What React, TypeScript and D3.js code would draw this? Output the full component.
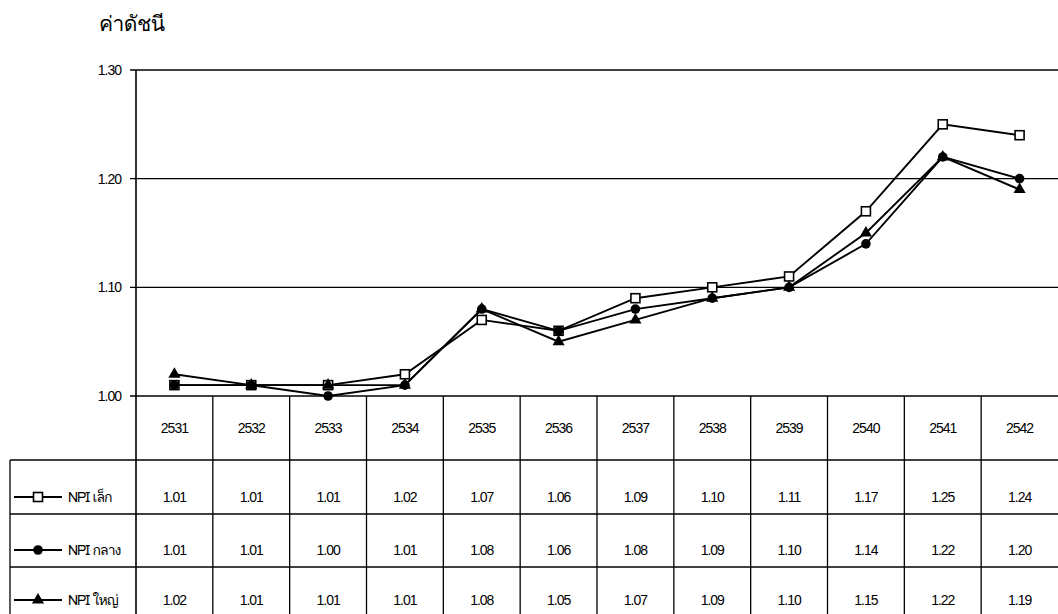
import React from "react";
import * as d3 from "d3";

const years = ["2531","2532","2533","2534","2535","2536","2537","2538","2539","2540","2541","2542"];
const npiSmall = [1.01,1.01,1.01,1.02,1.07,1.06,1.09,1.10,1.11,1.17,1.25,1.24];
const npiMedium = [1.01,1.01,1.00,1.01,1.08,1.06,1.08,1.09,1.10,1.14,1.22,1.20];
const npiLarge = [1.02,1.01,1.01,1.01,1.08,1.05,1.07,1.09,1.10,1.15,1.22,1.19];
const seriesNames = ["NPI เล็ก", "NPI กลาง", "NPI ใหญ่"];
const yTicks = [1.0, 1.1, 1.2, 1.3];
const yTitle = "ค่าดัชนี";

const W = 1058, H = 614;
const left = 136, right = 1058, top = 70, bottom = 396;
const tableLeft = 10;
const rowLines = [460, 514, 567];
const rowBaselines = [502, 555, 605];

const font = "'Liberation Sans', Arial, sans-serif";
const thaiFont = "'Loma', 'Garuda', 'Norasi', 'Noto Sans Thai', 'DejaVu Sans', 'Liberation Sans', sans-serif";

export default function App() {
  const x = d3.scaleBand<string>().domain(years).range([left, right]).padding(0);
  const y = d3.scaleLinear().domain([1.0, 1.3]).range([bottom, top]);
  const cx = (yr: string) => (x(yr) as number) + x.bandwidth() / 2;
  const line = d3.line<number>().x((_, i) => cx(years[i])).y((v) => y(v));
  const series = [npiSmall, npiMedium, npiLarge];

  const marker = (k: number, px: number, py: number, key: string) => {
    if (k === 0) return <rect key={key} x={px - 4.5} y={py - 4.5} width={9} height={9} fill="#fff" stroke="#000" strokeWidth={1.6} />;
    if (k === 1) return <circle key={key} cx={px} cy={py} r={4.8} fill="#000" />;
    const tri = d3.symbol().type(d3.symbolTriangle).size(64)();
    return <path key={key} d={tri as string} transform={`translate(${px},${py})`} fill="#000" />;
  };

  return (
    <svg width={W} height={H} style={{ position: "absolute", left: 0, top: 0, background: "#fff" }} fontFamily={font}>
      <rect width={W} height={H} fill="#fff" />
      <text x={99} y={31} fontSize={21} fontFamily={thaiFont} letterSpacing={-0.5}>{yTitle}</text>
      {yTicks.map((t) => (
        <g key={t}>
          <line x1={130} x2={right} y1={y(t)} y2={y(t)} stroke="#000" strokeWidth={1.3} />
          <text x={121} y={y(t) + 5} fontSize={14} textAnchor="end" letterSpacing={-1}>{t.toFixed(2)}</text>
        </g>
      ))}
      <line x1={left} x2={left} y1={top} y2={H} stroke="#000" strokeWidth={1.6} />
      {years.map((yr, i) => i > 0 && (
        <line key={yr} x1={x(yr) as number} x2={x(yr) as number} y1={bottom} y2={H} stroke="#000" strokeWidth={1.3} />
      ))}
      {years.map((yr) => (
        <text key={yr} x={cx(yr)} y={433} fontSize={14} textAnchor="middle" letterSpacing={-1}>{yr}</text>
      ))}
      {rowLines.map((ry) => (
        <line key={ry} x1={tableLeft} x2={right} y1={ry} y2={ry} stroke="#000" strokeWidth={1.3} />
      ))}
      <line x1={tableLeft} x2={tableLeft} y1={rowLines[0]} y2={H} stroke="#000" strokeWidth={1.3} />
      {series.map((s, k) => (
        <g key={k}>
          <line x1={14} x2={62} y1={rowBaselines[k] - 5} y2={rowBaselines[k] - 5} stroke="#000" strokeWidth={1.8} />
          {marker(k, 38, rowBaselines[k] - 5, "lg" + k)}
          <text x={68} y={rowBaselines[k]} fontSize={14} fontFamily={thaiFont} letterSpacing={-1}>{seriesNames[k]}</text>
          {s.map((v, i) => (
            <text key={i} x={cx(years[i])} y={rowBaselines[k]} fontSize={14} textAnchor="middle" letterSpacing={-1}>{v.toFixed(2)}</text>
          ))}
        </g>
      ))}
      {series.map((s, k) => (
        <g key={"s" + k}>
          <path d={line(s) as string} fill="none" stroke="#000" strokeWidth={1.9} />
          {s.map((v, i) => marker(k, cx(years[i]), y(v), `m${k}-${i}`))}
        </g>
      ))}
    </svg>
  );
}
